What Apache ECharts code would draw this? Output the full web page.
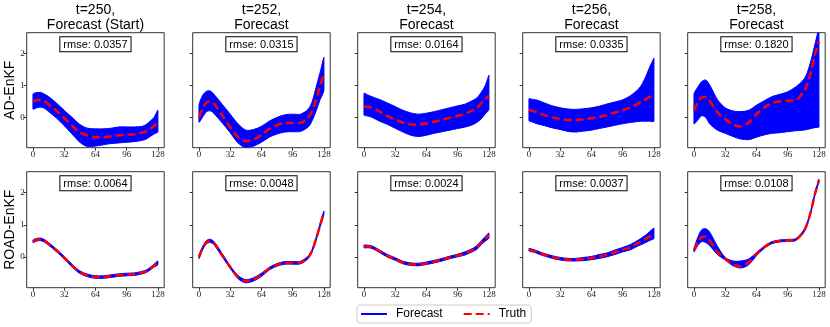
<!DOCTYPE html>
<html>
<head>
<meta charset="utf-8">
<script src="https://cdn.jsdelivr.net/npm/echarts@6/dist/echarts.min.js"></script>
<style>
  html, body { margin: 0; padding: 0; background: #fff; }
  #chart { width: 830px; height: 327px; }
</style>
</head>
<body>
<div id="chart"></div>
<script>
// sample positions along the state dimension
const xs = [0, 4, 8, 12, 16, 24, 32, 40, 48, 56, 64, 72, 80, 88, 96, 104, 112, 116, 120, 124, 128];

const steps = [250, 252, 254, 256, 258];
const stepLabels = ['Forecast (Start)', 'Forecast', 'Forecast', 'Forecast', 'Forecast'];
const methods = ['AD-EnKF', 'ROAD-EnKF'];
const rmseAD = ['0.0357', '0.0315', '0.0164', '0.0335', '0.1820'];
const rmseROAD = ['0.0064', '0.0048', '0.0024', '0.0037', '0.0108'];
const xTicks = [0, 32, 64, 96, 128];
const yTicks = [0, 1, 2];

// truth state per time step
const truth250 = [0.49, 0.54, 0.55, 0.50, 0.41, 0.21, -0.02, -0.26, -0.47, -0.57, -0.62, -0.62, -0.59, -0.56, -0.54, -0.53, -0.48, -0.44, -0.36, -0.27, -0.18];
const truth252 = [0.00, 0.29, 0.47, 0.50, 0.41, 0.05, -0.31, -0.62, -0.75, -0.69, -0.55, -0.36, -0.24, -0.18, -0.18, -0.17, 0.00, 0.21, 0.57, 0.98, 1.38];
const truth254 = [0.33, 0.33, 0.31, 0.25, 0.18, 0.04, -0.06, -0.17, -0.22, -0.23, -0.19, -0.14, -0.08, -0.01, 0.05, 0.12, 0.23, 0.31, 0.44, 0.56, 0.68];
const truth256 = [0.23, 0.20, 0.16, 0.11, 0.07, 0.00, -0.05, -0.08, -0.08, -0.06, -0.03, 0.02, 0.07, 0.15, 0.23, 0.31, 0.44, 0.50, 0.57, 0.65, 0.72];
const truth258 = [0.21, 0.47, 0.62, 0.64, 0.52, 0.16, -0.05, -0.23, -0.29, -0.16, 0.10, 0.31, 0.45, 0.50, 0.52, 0.54, 0.78, 1.04, 1.45, 1.97, 2.38];

// AD-EnKF ensemble envelope (upper / lower)
const adUp250 = [0.72, 0.78, 0.78, 0.72, 0.65, 0.45, 0.22, 0.00, -0.22, -0.34, -0.36, -0.36, -0.34, -0.30, -0.30, -0.30, -0.28, -0.22, -0.12, 0.00, 0.22];
const adLo250 = [0.26, 0.30, 0.32, 0.28, 0.18, -0.02, -0.26, -0.52, -0.78, -0.92, -0.90, -0.86, -0.82, -0.80, -0.78, -0.76, -0.72, -0.68, -0.60, -0.52, -0.45];
const adUp252 = [0.38, 0.70, 0.82, 0.82, 0.70, 0.40, 0.10, -0.20, -0.40, -0.38, -0.28, -0.12, 0.00, 0.08, 0.10, 0.10, 0.26, 0.50, 0.95, 1.40, 1.88];
const adLo252 = [-0.15, 0.02, 0.18, 0.20, 0.10, -0.18, -0.48, -0.80, -0.95, -0.90, -0.78, -0.62, -0.52, -0.46, -0.45, -0.44, -0.30, -0.10, 0.20, 0.55, 0.85];
const adUp254 = [0.75, 0.70, 0.65, 0.60, 0.56, 0.45, 0.34, 0.22, 0.14, 0.10, 0.13, 0.18, 0.24, 0.30, 0.36, 0.42, 0.54, 0.62, 0.78, 0.98, 1.32];
const adLo254 = [0.08, 0.04, 0.00, -0.06, -0.12, -0.22, -0.34, -0.46, -0.56, -0.60, -0.56, -0.50, -0.45, -0.40, -0.35, -0.30, -0.22, -0.15, -0.05, 0.10, 0.25];
const adUp256 = [0.58, 0.56, 0.54, 0.50, 0.45, 0.36, 0.30, 0.26, 0.25, 0.27, 0.30, 0.35, 0.42, 0.48, 0.55, 0.68, 0.88, 1.05, 1.30, 1.60, 1.85];
const adLo256 = [-0.10, -0.15, -0.20, -0.23, -0.26, -0.33, -0.38, -0.44, -0.46, -0.43, -0.40, -0.35, -0.30, -0.25, -0.20, -0.16, -0.13, -0.12, -0.12, -0.12, -0.12];
const adUp258 = [0.72, 0.95, 1.12, 1.17, 1.02, 0.56, 0.30, 0.20, 0.18, 0.22, 0.38, 0.52, 0.65, 0.72, 0.80, 0.95, 1.17, 1.40, 1.80, 2.30, 2.80];
const adLo258 = [-0.20, -0.08, 0.05, 0.00, -0.20, -0.40, -0.50, -0.60, -0.68, -0.70, -0.62, -0.55, -0.50, -0.48, -0.45, -0.42, -0.40, -0.38, -0.35, -0.32, -0.30];

// ROAD-EnKF ensemble envelope (upper / lower)
const roadUp250 = [0.53, 0.58, 0.59, 0.54, 0.45, 0.25, 0.02, -0.22, -0.43, -0.53, -0.58, -0.58, -0.55, -0.52, -0.50, -0.49, -0.44, -0.40, -0.32, -0.22, -0.12];
const roadLo250 = [0.45, 0.50, 0.51, 0.46, 0.37, 0.17, -0.06, -0.30, -0.51, -0.61, -0.66, -0.66, -0.63, -0.60, -0.58, -0.57, -0.52, -0.48, -0.40, -0.31, -0.24];
const roadUp252 = [0.05, 0.34, 0.52, 0.55, 0.46, 0.10, -0.27, -0.57, -0.70, -0.64, -0.50, -0.32, -0.20, -0.14, -0.14, -0.13, 0.04, 0.25, 0.62, 1.03, 1.43];
const roadLo252 = [-0.05, 0.24, 0.42, 0.45, 0.36, 0.00, -0.35, -0.67, -0.80, -0.74, -0.60, -0.40, -0.28, -0.22, -0.22, -0.21, -0.04, 0.17, 0.52, 0.93, 1.33];
const roadUp254 = [0.37, 0.37, 0.35, 0.29, 0.22, 0.08, -0.02, -0.13, -0.18, -0.19, -0.15, -0.10, -0.04, 0.03, 0.09, 0.17, 0.28, 0.37, 0.50, 0.63, 0.75];
const roadLo254 = [0.29, 0.29, 0.27, 0.21, 0.14, 0.00, -0.10, -0.21, -0.26, -0.27, -0.23, -0.18, -0.12, -0.05, 0.01, 0.07, 0.18, 0.25, 0.38, 0.49, 0.59];
const roadUp256 = [0.27, 0.24, 0.20, 0.15, 0.11, 0.04, -0.01, -0.04, -0.04, -0.01, 0.02, 0.08, 0.13, 0.22, 0.30, 0.39, 0.53, 0.61, 0.69, 0.80, 0.90];
const roadLo256 = [0.19, 0.16, 0.12, 0.07, 0.03, -0.04, -0.09, -0.12, -0.12, -0.11, -0.08, -0.04, 0.01, 0.08, 0.16, 0.23, 0.35, 0.40, 0.46, 0.52, 0.58];
const roadUp258 = [0.26, 0.62, 0.85, 0.88, 0.78, 0.34, -0.01, -0.12, -0.12, -0.06, 0.14, 0.34, 0.48, 0.53, 0.55, 0.57, 0.82, 1.08, 1.49, 2.01, 2.42];
const roadLo258 = [0.16, 0.36, 0.48, 0.45, 0.36, 0.08, -0.09, -0.27, -0.34, -0.24, 0.04, 0.27, 0.42, 0.47, 0.49, 0.51, 0.74, 1.00, 1.41, 1.93, 2.34];

const truths = [truth250, truth252, truth254, truth256, truth258];
const bands = [
  [[adUp250, adLo250], [adUp252, adLo252], [adUp254, adLo254], [adUp256, adLo256], [adUp258, adLo258]],
  [[roadUp250, roadLo250], [roadUp252, roadLo252], [roadUp254, roadLo254], [roadUp256, roadLo256], [roadUp258, roadLo258]]
];
const rmses = [rmseAD, rmseROAD];

// layout
const colLeft = [26.7, 192.7, 357.7, 522.7, 687.7];
const gridW = 137.5;
const rowTop = [32.7, 171.7];
const rowH = [115, 116];
const BLUE = '#0000ff';
const RED = '#ff0000';
const sans = 'Liberation Sans';
const serif = 'Liberation Serif';

const grids = [], xAxes = [], yAxes = [], graphics = [];
const series = [
  // legend-only entry
  { type: 'line', name: 'Forecast', data: [], symbol: 'none', xAxisIndex: 0, yAxisIndex: 0,
    lineStyle: { color: BLUE, width: 1.5 }, itemStyle: { color: BLUE } }
];

for (let r = 0; r < 2; r++) {
  for (let c = 0; c < 5; c++) {
    const idx = r * 5 + c;
    grids.push({
      left: colLeft[c], top: rowTop[r], width: gridW, height: rowH[r],
      show: true, borderColor: '#333', borderWidth: 1, backgroundColor: 'transparent',
      containLabel: false, outerBoundsMode: 'none'
    });
    xAxes.push({
      gridIndex: idx, type: 'value', min: -6.4, max: 134.4, position: 'bottom',
      axisLine: { show: false, onZero: false }, splitLine: { show: false },
      axisTick: { show: true, customValues: xTicks, length: 3, lineStyle: { color: '#333' } },
      axisLabel: { customValues: xTicks, margin: 2, fontSize: 9, fontFamily: serif, color: '#222' }
    });
    yAxes.push({
      gridIndex: idx, type: 'value', min: -0.95, max: 2.65, position: 'left',
      name: c === 0 ? methods[r] : '', nameLocation: 'middle', nameRotate: 90, nameGap: 10,
      nameMoveOverlap: false,
      nameTextStyle: { fontSize: 14, fontFamily: sans, color: '#000' },
      axisLine: { show: false, onZero: false }, splitLine: { show: false },
      axisTick: { show: true, customValues: yTicks, length: 3, lineStyle: { color: '#333' } },
      axisLabel: {
        show: c === 0, customValues: yTicks, interval: 0, hideOverlap: false,
        margin: 2, fontSize: 9, fontFamily: serif, color: '#222'
      }
    });

    const up = bands[r][c][0];
    const lo = bands[r][c][1];
    series.push({
      type: 'custom', name: 'ensemble', xAxisIndex: idx, yAxisIndex: idx,
      clip: true, silent: true, z: 2, data: [[0, 0]],
      renderItem: function (params, api) {
        const top = xs.map((x, i) => api.coord([x, up[i]]));
        const bot = xs.map((x, i) => api.coord([x, lo[i]])).reverse();
        const pts = top.concat(bot);
        let mnx = Infinity, mny = Infinity, mxx = -Infinity, mxy = -Infinity;
        pts.forEach(p => { mnx = Math.min(mnx, p[0]); mny = Math.min(mny, p[1]); mxx = Math.max(mxx, p[0]); mxy = Math.max(mxy, p[1]); });
        return {
          type: 'polygon',
          shape: { points: pts, smooth: 0.3, smoothConstraint: [[mnx, mny], [mxx, mxy]] },
          style: { fill: BLUE, stroke: BLUE, lineWidth: 1 }
        };
      }
    });
    series.push({
      type: 'line', name: 'Truth', xAxisIndex: idx, yAxisIndex: idx,
      data: xs.map((x, i) => [x, truths[c][i]]),
      symbol: 'none', smooth: 0.3, silent: true, z: 3,
      lineStyle: { color: RED, width: 2.5, type: [8, 4] }, itemStyle: { color: RED }
    });

    graphics.push({
      type: 'text', z: 100, x: colLeft[c] + gridW / 2, y: rowTop[r] + 4.5,
      style: {
        text: 'rmse: ' + rmses[r][c], fontSize: 11, fontFamily: sans, fill: '#000',
        align: 'center', verticalAlign: 'top', backgroundColor: '#fff',
        borderColor: '#000', borderWidth: 1, padding: [2, 3, 1, 3]
      }
    });
  }
}

steps.forEach((t, c) => {
  graphics.push({
    type: 'text', z: 100, x: colLeft[c] + gridW / 2, y: 3,
    style: {
      text: 't=' + t + ',\n' + stepLabels[c], fontSize: 14, lineHeight: 15, fontFamily: sans,
      fill: '#000', align: 'center', verticalAlign: 'top'
    }
  });
});

const chart = echarts.init(document.getElementById('chart'));
chart.setOption({
  animation: false,
  backgroundColor: '#fff',
  grid: grids,
  xAxis: xAxes,
  yAxis: yAxes,
  legend: {
    data: ['Forecast', 'Truth'],
    left: 357, top: 305, padding: [3, 5, 3, 3],
    itemWidth: 26, itemHeight: 14, itemGap: 20,
    borderColor: '#cccccc', borderWidth: 1, borderRadius: 3, backgroundColor: '#fff',
    selectedMode: false,
    itemStyle: { opacity: 0 },
    textStyle: { fontSize: 12, fontFamily: sans, color: '#000', padding: [0, 0, 0, 4] }
  },
  graphic: graphics,
  series: series
});
</script>
</body>
</html>
